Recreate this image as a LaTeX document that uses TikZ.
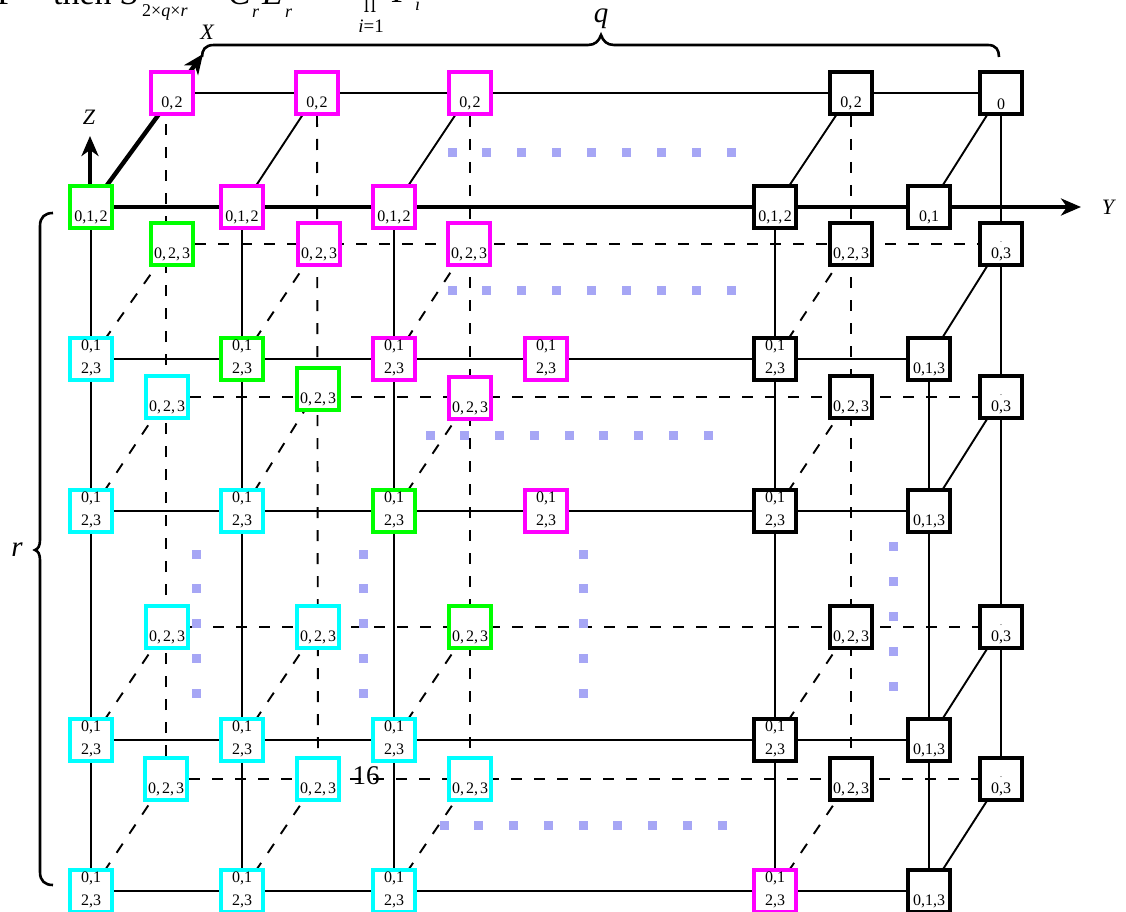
\documentclass[tikz,border=0pt]{standalone}
\usepackage{fontspec}
\setmainfont{Liberation Serif}
\usetikzlibrary{arrows.meta,backgrounds}
\definecolor{cmag}{RGB}{255,0,255}
\definecolor{cgrn}{RGB}{0,255,0}
\definecolor{ccya}{RGB}{0,255,255}
\definecolor{cdot}{RGB}{166,166,245}
\newcommand{\celltxt}[2]{\vbox to 36pt{\baselineskip=23pt\lineskiplimit=-40pt\vss\hbox to 36pt{\hss#1\hss}\hbox to 36pt{\hss#2\hss}\kern1pt}}
\newcommand{\cellA}{\celltxt{0,1}{2,3}}
\newcommand{\cellB}{\celltxt{}{0,\kern2pt2,\kern2pt3}}
\newcommand{\cellC}{\celltxt{\raisebox{-7pt}{\fontsize{8}{8}\selectfont.}}{0,3}}
\newcommand{\cellD}{\celltxt{}{0,1,3}}
\newcommand{\cellE}{\celltxt{}{0,1,\kern1.5pt2}}
\newcommand{\cellF}{\celltxt{}{0,\kern1.5pt2}}
\begin{document}
\begin{tikzpicture}[x=1pt,y=-1pt,
  cell/.style={draw=#1, line width=3.1pt, fill=white, inner sep=3pt, font=\fontsize{16}{16}\selectfont},
  cell/.default=black,
  solidln/.style={line width=1.9pt},
  dashln/.style={line width=1.9pt, dash pattern=on 11pt off 12pt},
  axisln/.style={line width=4.4pt, -{Stealth[length=20pt,width=17pt,inset=6pt]}},
  brc/.style={line width=2.6pt},
  axlbl/.style={font=\fontsize{22}{22}\selectfont\itshape},
  biglbl/.style={font=\fontsize{29}{29}\selectfont\itshape},
  hdr/.style={anchor=base west, inner sep=0pt, font=\fontsize{34}{34}\selectfont},
  hdrsub/.style={anchor=base west, inner sep=0pt, font=\fontsize{18}{18}\selectfont},
]
\useasboundingbox (0,0) rectangle (1126,912);

% header fragment (clipped at the top edge)
\node[hdr] (h1) at (-3,5) {P};
\node[hdr] (h2) at (53,5) {then};
\node[hdr] (h3) at (121,5) {\itshape S};
\node[hdrsub] (h4) at (142,17) {2×\textit{q}×\textit{r}};
\node[hdr] (h5) at (197,5) {=};
\node[hdr] (h6) at (228,5) {\itshape C};
\node[hdrsub] (h7) at (252,18) {\itshape r};
\node[hdr] (h8) at (262,5) {\itshape E};
\node[hdrsub] (h9) at (285,18) {\itshape r};
\node[anchor=base, inner sep=0pt, font=\fontsize{26}{26}\selectfont] (h10) at (370,12) {$\displaystyle\prod$};
\node[anchor=base, inner sep=0pt, font=\fontsize{19}{19}\selectfont] (h11) at (371,33) {\textit{i}=1};
\node[hdr] (h12) at (392,3) {\itshape P};
\node[hdrsub] (h13) at (415,11) {\itshape i};

\coordinate (xtip) at (203,54);
\coordinate (ztip) at (90,136);
\coordinate (ytip) at (1081,207);

% back row Q0
\node[cell=cmag] (b1q0) at (172,93) {\cellF};
\node[cell=cmag] (b2q0) at (317,93) {\cellF};
\node[cell=cmag] (b3q0) at (470,93) {\cellF};
\node[cell] (b5q0) at (851,93) {\cellF};
\node[cell] (b6q0) at (1001,93) {\celltxt{}{0}};
% front row R1
\node[cell=cgrn] (f1r1) at (91,207) {\cellE};
\node[cell=cmag] (f2r1) at (242,207) {\cellE};
\node[cell=cmag] (f3r1) at (394,207) {\cellE};
\node[cell] (f5r1) at (775,207) {\cellE};
\node[cell] (f6r1) at (929,207) {\celltxt{}{0,1}};
% back row Q1
\node[cell=cgrn] (b1q1) at (172,244) {\cellB};
\node[cell=cmag] (b2q1) at (319,244) {\cellB};
\node[cell=cmag] (b3q1) at (469,244) {\cellB};
\node[cell] (b5q1) at (851,244) {\cellB};
\node[cell] (b6q1) at (1001,244) {\cellC};
% front row R2
\node[cell=ccya] (f1r2) at (91,359) {\cellA};
\node[cell=cgrn] (f2r2) at (242,359) {\cellA};
\node[cell=cmag] (f3r2) at (394,359) {\cellA};
\node[cell=cmag] (f4r2) at (546,359) {\cellA};
\node[cell] (f5r2) at (775,359) {\cellA};
\node[cell] (f6r2) at (929,359) {\cellD};
% back row Q2
\node[cell=ccya] (b1q2) at (167,397) {\cellB};
\node[cell=cgrn] (b2q2) at (318,389) {\cellB};
\node[cell=cmag] (b3q2) at (470,398) {\cellB};
\node[cell] (b5q2) at (851,397) {\cellB};
\node[cell] (b6q2) at (1001,397) {\cellC};
% front row R3
\node[cell=ccya] (f1r3) at (91,511) {\cellA};
\node[cell=ccya] (f2r3) at (242,511) {\cellA};
\node[cell=cgrn] (f3r3) at (394,511) {\cellA};
\node[cell=cmag] (f4r3) at (546,511) {\cellA};
\node[cell] (f5r3) at (775,511) {\cellA};
\node[cell] (f6r3) at (929,511) {\cellD};
% back row Q3
\node[cell=ccya] (b1q3) at (167,627) {\cellB};
\node[cell=ccya] (b2q3) at (318,627) {\cellB};
\node[cell=cgrn] (b3q3) at (470,627) {\cellB};
\node[cell] (b5q3) at (851,627) {\cellB};
\node[cell] (b6q3) at (1001,627) {\cellC};
% front row R4
\node[cell=ccya] (f1r4) at (91,740) {\cellA};
\node[cell=ccya] (f2r4) at (242,740) {\cellA};
\node[cell=ccya] (f3r4) at (394,740) {\cellA};
\node[cell] (f5r4) at (775,740) {\cellA};
\node[cell] (f6r4) at (929,740) {\cellD};
% back row Q4
\node[cell=ccya] (b1q4) at (166,779) {\cellB};
\node[cell=ccya] (b2q4) at (318,779) {\cellB};
\node[cell=ccya] (b3q4) at (470,779) {\cellB};
\node[cell] (b5q4) at (851,779) {\cellB};
\node[cell] (b6q4) at (1001,779) {\cellC};
% front row R5
\node[cell=ccya] (f1r5) at (91,891) {\cellA};
\node[cell=ccya] (f2r5) at (242,891) {\cellA};
\node[cell=ccya] (f3r5) at (394,891) {\cellA};
\node[cell=cmag] (f5r5) at (775,891) {\cellA};
\node[cell] (f6r5) at (929,891) {\cellD};

\begin{pgfonlayer}{background}
\fill[white] (0,0) rectangle (1126,912);
% back rows
\draw[solidln] (b1q0.center) -- (b6q0.center);
\foreach \q in {1,2,3,4} \draw[dashln] (b1q\q.center) -- (b6q\q.center);
% back columns
\draw[dashln] (b1q4.center) -- (b1q4.center |- b1q0.center);
\foreach \c in {2,3,5} \draw[dashln] (b\c q0.center) -- (b\c q4.center);
\draw[solidln] (b6q0.center) -- (b6q4.center);
% front rows
\foreach \r in {2,3,4,5} \draw[solidln] (f1r\r.center) -- (f6r\r.center);
% front columns
\foreach \c in {1,2,3,5} \draw[solidln] (f\c r1.center) -- (f\c r5.center);
\draw[solidln] (f6r2.center) -- (f6r5.center);
% depth connectors
\foreach \c in {2,3,5,6} \draw[solidln] (f\c r1.center) -- (b\c q0.center);
\foreach \r/\q in {2/1,3/2,4/3,5/4} {
  \foreach \c in {1,2,3,5} \draw[dashln] (f\c r\r.center) -- (b\c q\q.center);
  \draw[solidln] (f6r\r.center) -- (b6q\q.center);
}
% axes
\draw[axisln] (f1r1.center) -- (xtip);
\draw[axisln] (ztip |- f1r1.center) -- (ztip);
\draw[axisln] (f1r1.center) -- (ytip);
\end{pgfonlayer}

% ellipsis dots
\foreach \k in {0,...,8} {
  \fill[cdot] ({452+34.875*\k-4.5},148.5) rectangle ++(9,9);
  \fill[cdot] ({452+34.875*\k-4.5},285.5) rectangle ++(9,9);
  \fill[cdot] ({430+34.75*\k-4.5},430.5) rectangle ++(9,9);
  \fill[cdot] ({444+34.75*\k-4.5},820.5) rectangle ++(9,9);
}
\foreach \k in {0,...,4} {
  \fill[cdot] (191.5,{554+34.75*\k-4.5}) rectangle ++(9,9);
  \fill[cdot] (358.5,{554+34.75*\k-4.5}) rectangle ++(9,9);
  \fill[cdot] (578.5,{554+34.75*\k-4.5}) rectangle ++(9,9);
  \fill[cdot] (888.5,{546+35*\k-4.5}) rectangle ++(9,9);
}

% braces
\draw[brc] (202,57) .. controls (202,50) and (205,45) .. (214,45) -- (588,45)
  .. controls (595,45) and (599,41) .. (601,35)
  .. controls (603,41) and (607,45) .. (614,45) -- (988,45)
  .. controls (996,45) and (999,50) .. (999,57);
\draw[brc] (53,213) .. controls (45,213) and (40,217) .. (40,226) -- (40,540)
  .. controls (40,546) and (38,549) .. (35,550)
  .. controls (38,551) and (40,554) .. (40,560) -- (40,872)
  .. controls (40,881) and (45,885) .. (53,885);

% labels
\node[axlbl] (xl) at (207,32) {X};
\node[axlbl] (zl) at (89,117) {Z};
\node[axlbl] (yl) at (1108,207) {Y};
\node[biglbl] (ql) at (601,19) {q};
\node[biglbl] (rl) at (17,550) {r};
\node[font=\fontsize{27}{27}\selectfont] (pg) at (366,776) {16};
\end{tikzpicture}
\end{document}
